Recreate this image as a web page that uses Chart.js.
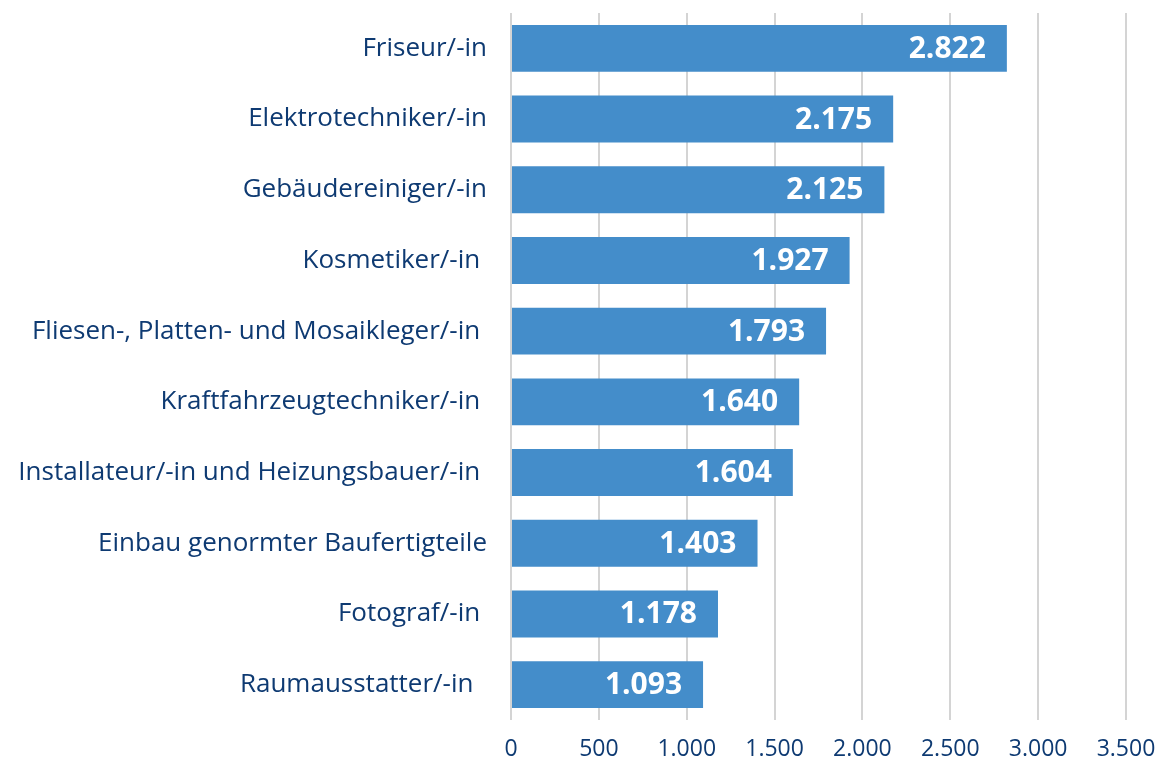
<!DOCTYPE html>
<html>
<head>
<meta charset="utf-8">
<script src="https://cdn.jsdelivr.net/npm/chart.js@4"></script>
<style>
html,body{margin:0;padding:0;background:#fff;}
#wrap{width:1158px;height:763px;position:relative;}
</style>
</head>
<body>
<div id="wrap"><canvas id="c" width="1158" height="763"></canvas></div>
<script>
const categories = [
  "Friseur/-in",
  "Elektrotechniker/-in",
  "Gebäudereiniger/-in",
  "Kosmetiker/-in ",
  "Fliesen-, Platten- und Mosaikleger/-in ",
  "Kraftfahrzeugtechniker/-in ",
  "Installateur/-in und Heizungsbauer/-in ",
  "Einbau genormter Baufertigteile",
  "Fotograf/-in ",
  "Raumausstatter/-in  "
];
const values = [2822, 2175, 2125, 1927, 1793, 1640, 1604, 1403, 1178, 1093];
const xTicks = [0, 500, 1000, 1500, 2000, 2500, 3000, 3500];

const FONT = "'Open Sans', 'Noto Sans', sans-serif";
const TEXT = "#0e3a72";
const BAR = "#448dca";

function fmt(v){ return v.toLocaleString('de-DE'); }

const valueLabels = {
  id: 'valueLabels',
  afterDatasetsDraw(chart){
    const ctx = chart.ctx;
    const meta = chart.getDatasetMeta(0);
    ctx.save();
    ctx.font = "bold 30px " + FONT;
    ctx.fillStyle = "#ffffff";
    ctx.textAlign = "right";
    ctx.textBaseline = "middle";
    meta.data.forEach((bar, i) => {
      ctx.fillText(fmt(values[i]), bar.x - 21, bar.y + 1);
    });
    ctx.restore();
  }
};

new Chart(document.getElementById('c'), {
  type: 'bar',
  data: {
    labels: categories,
    datasets: [{
      data: values,
      backgroundColor: BAR,
      borderWidth: 0,
      barPercentage: 0.664,
      categoryPercentage: 1.0
    }]
  },
  options: {
    indexAxis: 'y',
    responsive: false,
    animation: false,
    devicePixelRatio: 1,
    layout: { padding: { top: 13, right: 32, bottom: 0, left: 0 } },
    plugins: { legend: { display: false }, tooltip: { enabled: false } },
    scales: {
      x: {
        min: 0, max: 3500,
        afterBuildTicks(scale){ scale.ticks = xTicks.map(v => ({ value: v })); },
        afterFit(scale){ scale.paddingLeft = 0; scale.paddingRight = 0; scale.height = 43; },
        ticks: {
          color: TEXT,
          font: { family: FONT, size: 23 },
          padding: 16,
          maxRotation: 0,
          callback: (v) => fmt(v)
        },
        grid: { color: "#d4d4d4", lineWidth: 2, drawTicks: false },
        border: { display: false }
      },
      y: {
        afterFit(scale){ scale.width = 511; scale.paddingTop = 0; scale.paddingBottom = 0; },
        ticks: {
          color: TEXT,
          font: { family: FONT, size: 26 },
          padding: 24
        },
        grid: { display: false, drawTicks: false },
        border: { display: false }
      }
    }
  },
  plugins: [valueLabels]
});
</script>
</body>
</html>
